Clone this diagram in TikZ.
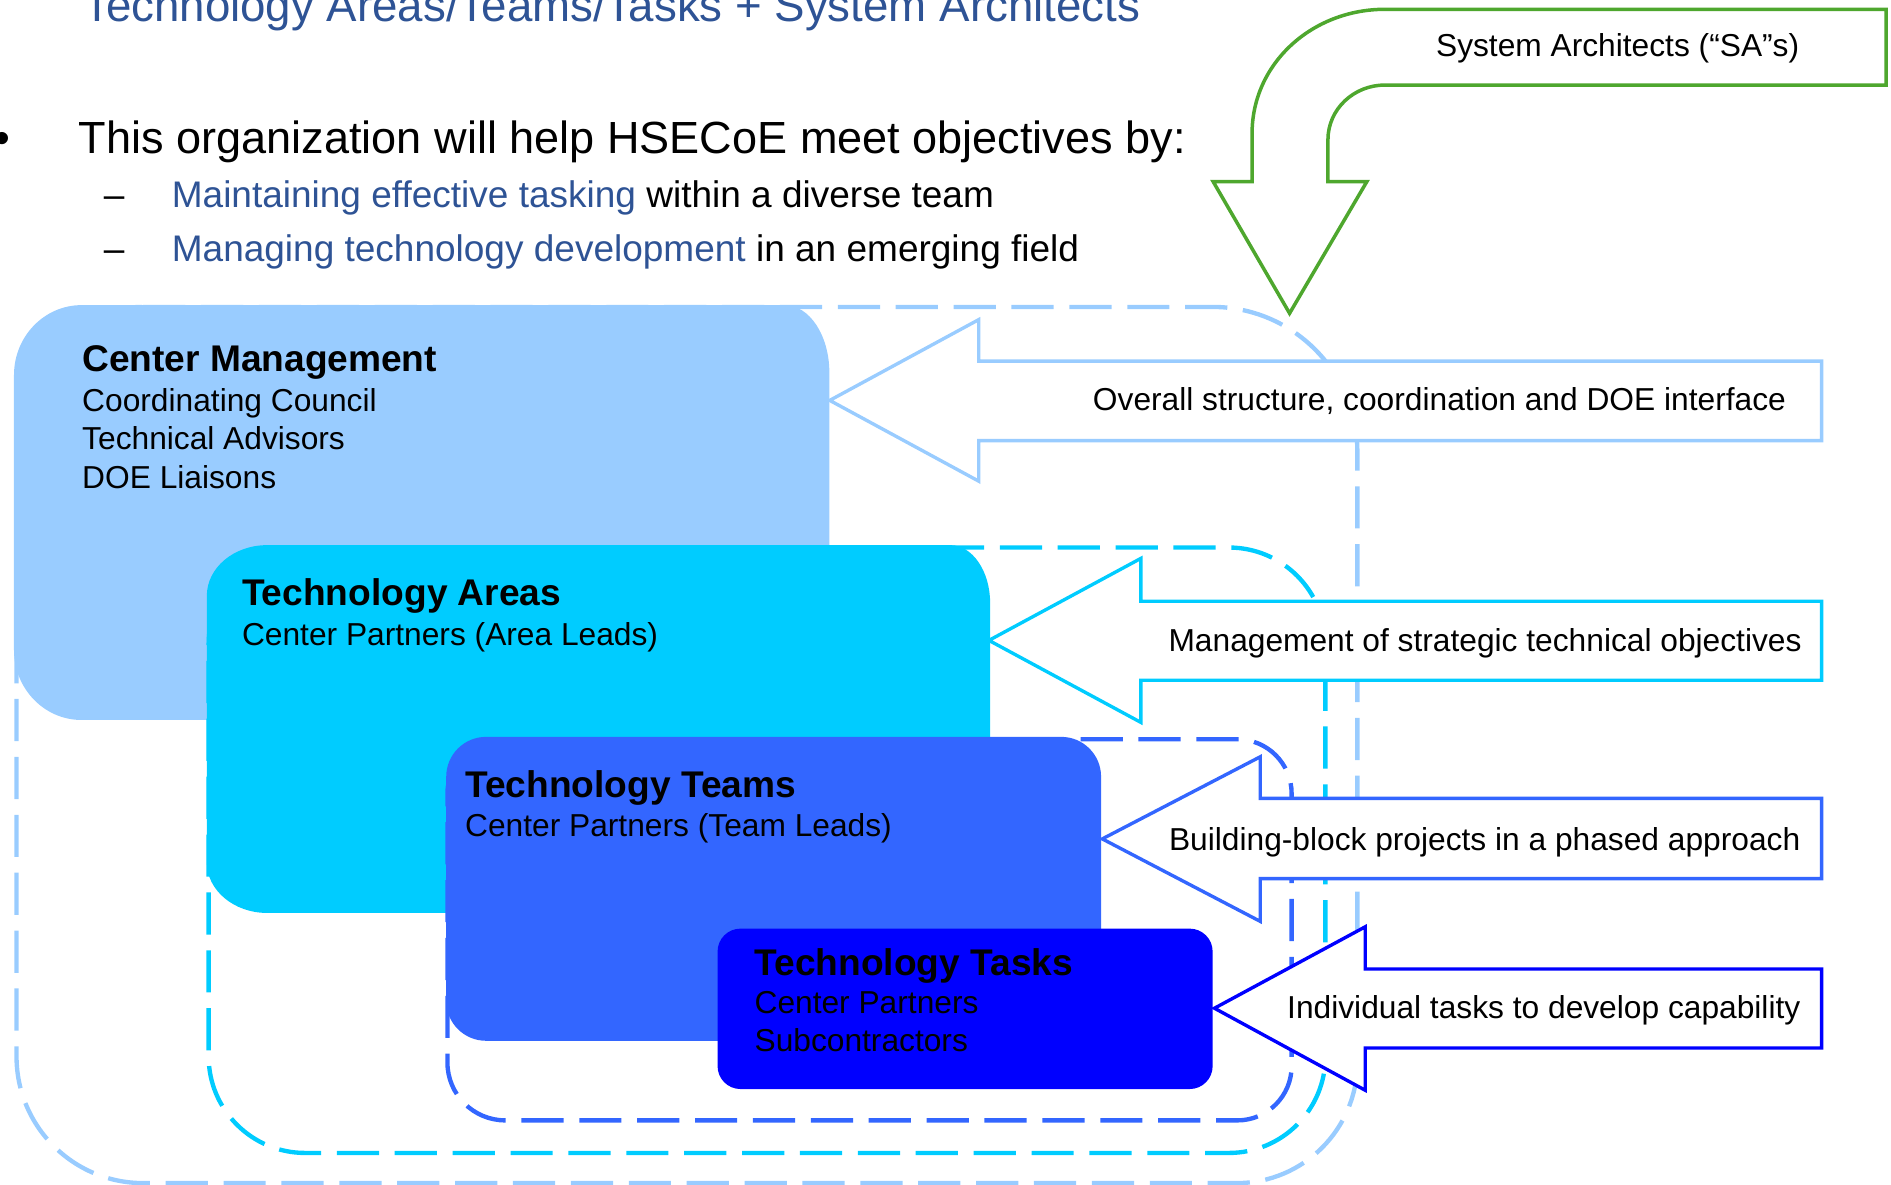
\documentclass[tikz,border=0pt]{standalone}
\usepackage{fontspec}
\setmainfont{Liberation Sans}
\definecolor{cmC}{HTML}{99CCFF}
\definecolor{taC}{HTML}{00CCFF}
\definecolor{tmC}{HTML}{3366FF}
\definecolor{tkC}{HTML}{0000FF}
\definecolor{saC}{HTML}{4EA72E}
\definecolor{tblue}{HTML}{2E5395}
% filled box with elliptical left corners (#6,#7) and right corners (#8,#9)
\newcommand\ebox[9]{%
\path[#1] (#2+#6,#3) -- (#4-#8,#3)
 .. controls (#4-0.448*#8,#3) and (#4,#3+0.448*#9) .. (#4,#3+#9)
 -- (#4,#5-#9)
 .. controls (#4,#5-0.448*#9) and (#4-0.448*#8,#5) .. (#4-#8,#5)
 -- (#2+#6,#5)
 .. controls (#2+0.448*#6,#5) and (#2,#5-0.448*#7) .. (#2,#5-#7)
 -- (#2,#3+#7)
 .. controls (#2,#3+0.448*#7) and (#2+0.448*#6,#3) .. (#2+#6,#3) -- cycle;}
% outline with corner radii TL #6, TR #7, BR #8, BL #9
\newcommand\drect[9]{%
\path[#1] (#2+#6,#3) -- (#4-#7,#3)
 .. controls (#4-0.448*#7,#3) and (#4,#3+0.448*#7) .. (#4,#3+#7)
 -- (#4,#5-#8)
 .. controls (#4,#5-0.448*#8) and (#4-0.448*#8,#5) .. (#4-#8,#5)
 -- (#2+#9,#5)
 .. controls (#2+0.448*#9,#5) and (#2,#5-0.448*#9) .. (#2,#5-#9)
 -- (#2,#3+#6)
 .. controls (#2,#3+0.448*#6) and (#2+0.448*#6,#3) .. (#2+#6,#3) -- cycle;}
\begin{document}
\begin{tikzpicture}[x=1bp,y=-1bp,
  dashbox/.style={draw=#1,line width=3.6bp,dash pattern=on 35bp off 13bp},
  blockarrow/.style={draw=#1,fill=white,line width=2.8bp,line join=miter},
  lbl/.style={inner sep=0pt,font=\fontsize{26.4}{31.7}\selectfont},
  hd/.style={inner sep=0pt,font=\fontsize{30.9}{37}\selectfont\bfseries},
  bigtxt/.style={inner sep=0pt,font=\fontsize{37.5}{45}\selectfont},
  subtxt/.style={inner sep=0pt,font=\fontsize{30.8}{37}\selectfont},
  titletxt/.style={inner sep=0pt,font=\fontsize{38}{45}\selectfont,text=tblue}]
\useasboundingbox (0,0) rectangle (1568,982);

% Center Management
\drect{dashbox=cmC}{13.7}{254.5}{1125.5}{981}{105}{120}{100}{105}
\ebox{fill=cmC}{11.6}{253}{687.7}{597}{56}{58}{37}{56}
% Technology Areas
\drect{dashbox=taC}{173}{454}{1099}{956}{80}{80}{80}{80}
\ebox{fill=taC}{171.5}{452}{821}{757}{50}{42}{33}{48}
% Technology Teams
\drect{dashbox=tmC}{371}{613}{1071}{929}{45}{45}{45}{48}
\ebox{fill=tmC}{370}{611}{913}{863}{33}{33}{33}{33}
% Technology Tasks
\ebox{fill=tkC}{595}{770}{1005.5}{903}{19}{19}{19}{19}

% block arrows
\path[blockarrow=cmC] (688,332) -- (811.6,265) -- (811.6,299.4) -- (1510.5,299.4)
  -- (1510.5,365.4) -- (811.6,365.4) -- (811.6,399) -- cycle;
\path[blockarrow=taC] (820,531) -- (946,463) -- (946,498.5) -- (1510.5,498.5)
  -- (1510.5,564) -- (946,564) -- (946,599) -- cycle;
\path[blockarrow=tmC] (914,695.6) -- (1045,627.5) -- (1045,662) -- (1510.5,662)
  -- (1510.5,728.5) -- (1045,728.5) -- (1045,764) -- cycle;
\path[blockarrow=tkC] (1007,836) -- (1132,768.5) -- (1132,803.5) -- (1510.5,803.5)
  -- (1510.5,869) -- (1132,869) -- (1132,904) -- cycle;

% System Architects bent arrow
\path[draw=saC,fill=white,line width=2.9bp,line join=miter]
  (1564,7.7) -- (1148.5,7.7)
  .. controls (1087.5,7.7) and (1038.2,53) .. (1038.2,110.6)
  -- (1038.2,150.7) -- (1006,150.7) -- (1069.3,259.8) -- (1133.3,150.7)
  -- (1101.1,150.7) -- (1101.1,116)
  .. controls (1101.1,90.5) and (1122.5,70.5) .. (1148.5,70.5)
  -- (1564,70.5) -- cycle;

% header texts
\node[titletxt,anchor=base west] (title) at (68.8,18) {Technology Areas/Teams/Tasks + System Architects};
\node[bigtxt,anchor=base west] (bullet) at (-5,127) {•};
\node[bigtxt,anchor=base west] (obj) at (65.3,127) {This organization will help HSECoE meet objectives by:};
\node[subtxt,anchor=base west] (dash1) at (86,172) {–};
\node[subtxt,anchor=base west] (sub1) at (142.3,172) {\textcolor{tblue}{Maintaining effective tasking} within a diverse team};
\node[subtxt,anchor=base west] (dash2) at (86,217) {–};
\node[subtxt,anchor=base west] (sub2) at (142.3,217) {\textcolor{tblue}{Managing technology development} in an emerging field};

% box texts
\node[hd,anchor=base west] (cmh) at (68,308.2) {Center Management};
\node[lbl,anchor=base west] (cm1) at (68,341.3) {Coordinating Council};
\node[lbl,anchor=base west] (cm2) at (68,372.8) {Technical Advisors};
\node[lbl,anchor=base west] (cm3) at (68,404.9) {DOE Liaisons};

\node[hd,anchor=base west] (tah) at (200.5,502) {Technology Areas};
\node[lbl,anchor=base west] (ta1) at (200.5,535) {Center Partners (Area Leads)};

\node[hd,anchor=base west] (tmh) at (385.5,661) {Technology Teams};
\node[lbl,anchor=base west] (tm1) at (385.5,694) {Center Partners (Team Leads)};

\node[hd,anchor=base west] (tkh) at (625.5,808.5) {Technology Tasks};
\node[lbl,anchor=base west] (tk1) at (625.5,840.3) {Center Partners};
\node[lbl,anchor=base west] (tk2) at (625.5,872) {Subcontractors};

% arrow texts
\node[lbl,anchor=base west] (sa) at (1190.6,47) {System Architects (“SA”s)};
\node[lbl,anchor=base east] (a1) at (1481,340.5) {Overall structure, coordination and DOE interface};
\node[lbl,anchor=base east] (a2) at (1494,540.4) {Management of strategic technical objectives};
\node[lbl,anchor=base east] (a3) at (1493,705.4) {Building-block projects in a phased approach};
\node[lbl,anchor=base east] (a4) at (1493,844.3) {Individual tasks to develop capability};
\end{tikzpicture}
\end{document}
